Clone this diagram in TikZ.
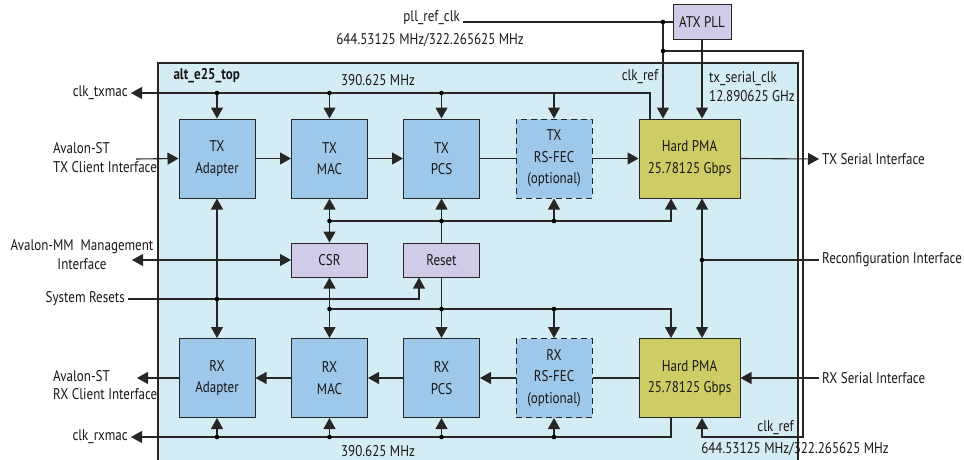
\documentclass[tikz,border=0pt]{standalone}
\usepackage{fontspec}
\setmainfont{PT Sans}[FakeStretch=0.84]
\usetikzlibrary{arrows.meta}
\definecolor{topfill}{HTML}{D4ECF3}
\definecolor{blockblue}{HTML}{9EC8E9}
\definecolor{ctrllav}{HTML}{D0CBE6}
\definecolor{pmaolive}{HTML}{CFCC66}
\definecolor{txtcol}{HTML}{1A1718}

\begin{document}
\begin{tikzpicture}[
  x=1pt, y=-1pt,
  every node/.style={font=\fontsize{15.5}{21.5}\selectfont, text=txtcol},
  block/.style={draw=black!85, line width=1pt, fill=blockblue, minimum width=76pt, minimum height=79pt, inner sep=0pt, align=center},
  optblock/.style={block, dash pattern=on 6pt off 4pt},
  ctrl/.style={block, fill=ctrllav, minimum height=34pt},
  pma/.style={block, fill=pmaolive, minimum width=101pt},
  lbl/.style={inner sep=3pt, font=\fontsize{15.5}{18.5}\selectfont},
  sig/.style={draw=black!85, line width=1.1pt},
  arr/.style={sig, -{Triangle[length=11pt,width=12pt]}},
  darr/.style={sig, {Triangle[length=11pt,width=12pt]}-{Triangle[length=11pt,width=12pt]}},
  dot/.style={fill=black, radius=2.3pt}
]
  \clip (0,0) rectangle (964,460);

  % top level wrapper
  \draw[draw=black!85, line width=1.1pt, fill=topfill] (158,63) rectangle (798,470);
  \node[anchor=west, font=\fontsize{15.5}{18}\selectfont\bfseries] (top) at (170,76) {alt\_e25\_top};

  % TX path
  \node[block] (txad) at (217,158.5) {TX\\Adapter};
  \node[block] (txmac) at (329.5,158.5) {TX\\MAC};
  \node[block] (txpcs) at (441.5,158.5) {TX\\PCS};
  \node[optblock] (txfec) at (554,158.5) {TX\\RS-FEC\\(optional)};
  \node[pma] (txpma) at (689.5,158.5) {Hard PMA\\25.78125 Gbps};

  % control
  \node[ctrl] (csr) at (329.5,260) {CSR};
  \node[ctrl] (reset) at (441.5,260) {Reset};

  % RX path
  \node[block] (rxad) at (217,378) {RX\\Adapter};
  \node[block] (rxmac) at (329.5,378) {RX\\MAC};
  \node[block] (rxpcs) at (441.5,378) {RX\\PCS};
  \node[optblock] (rxfec) at (554,378) {RX\\RS-FEC\\(optional)};
  \node[pma] (rxpma) at (689.5,378) {Hard PMA\\25.78125 Gbps};

  \node[ctrl, minimum width=58pt, minimum height=35pt] (atx) at (702,22) {ATX PLL};

  % outside labels
  \node[lbl, anchor=east] (clktx) at (131,93) {clk\_txmac};
  \node[lbl, anchor=west, align=left] (avsttx) at (50,157.5) {Avalon-ST\\TX Client Interface};
  \node[lbl, align=center] (avmm) at (82,254.5) {Avalon-MM~ Management\\Interface};
  \node[lbl, anchor=east] (sysres) at (128,299) {System Resets};
  \node[lbl, anchor=west, align=left] (avstrx) at (50,385) {Avalon-ST\\RX Client Interface};
  \node[lbl, anchor=east] (clkrx) at (131,437) {clk\_rxmac};
  \node[lbl, anchor=west] (txser) at (819,159) {TX Serial Interface};
  \node[lbl, anchor=west] (reconf) at (819,260) {Reconfiguration Interface};
  \node[lbl, anchor=west] (rxser) at (819,378) {RX Serial Interface};
  \node[lbl, anchor=base east] (pll) at (463,22) {pll\_ref\_clk};
  \node[lbl] (pllfreq) at (430,40) {644.53125 MHz/322.265625 MHz};
  \node[lbl] (txfreq) at (378,80) {390.625 MHz};
  \node[lbl] (rxfreq) at (378,451) {390.625 MHz};
  \node[lbl] (creft) at (640,77) {clk\_ref};
  \node[lbl, anchor=west, align=left] (serclk) at (706,86.5) {tx\_serial\_clk\\12.890625 GHz};
  \node[lbl, anchor=east] (crefb) at (797,428) {clk\_ref};
  \node[lbl] (reffreq) at (795,449) {644.53125 MHz/322.265625 MHz};

  % junction points
  \coordinate (tclk) at (650,93);
  \coordinate (tbus) at (671,221);
  \coordinate (rbus) at (671,309);
  \coordinate (bclk) at (671,437);
  \coordinate (cref) at (663,22);
  \coordinate (cjoin) at (663,51);
  \coordinate (rtop) at (803,51);
  \coordinate (rbot) at (803,437);
  \coordinate (rstin) at (419,299);
  \coordinate (txin) at (136,159);
  \coordinate (rxout) at (137,378);
  \coordinate (mmout) at (132,260);
  \coordinate (rcfg) at (702,260);

  % TX clock
  \draw[arr] (txpma.north -| tclk) |- (clktx.east);
  \foreach \b in {txad,txmac,txpcs} {
    \draw[arr] (\b.north |- tclk) -- (\b.north);
    \fill[dot] (\b.north |- tclk) circle;
  }
  \draw[arr] (txfec.north |- tclk) -- (txfec.north);

  % TX datapath
  \draw[arr] (txin) -- (txad.west);
  \draw[arr] (txad) -- (txmac);
  \draw[arr] (txmac) -- (txpcs);
  \draw[sig] (txpcs) -- (txfec);
  \draw[arr] (txfec) -- (txpma);
  \draw[arr] (txpma.east) -- (txser.west);

  % TX control bus
  \draw[arr] (txmac.south |- tbus) -| (tbus |- txpma.south);
  \draw[darr] (txmac.south) -- (csr.north);
  \draw[arr] (reset.north) -- (txpcs.south);
  \draw[arr] (txfec.south |- tbus) -- (txfec.south);
  \foreach \b in {txmac,txpcs,txfec}
    \fill[dot] (\b.south |- tbus) circle;

  % management and resets
  \draw[darr] (mmout) -- (csr.west);
  \draw[arr] (sysres.east) -| (rstin |- reset.south);
  \draw[darr] (txad.south) -- (rxad.north);
  \fill[dot] (txad.south |- rstin) circle;

  % RX control bus
  \draw[arr] (csr.south |- rbus) -| (rbus |- rxpma.north);
  \draw[darr] (csr.south) -- (rxmac.north);
  \draw[arr] (reset.south) -- (rxpcs.north);
  \draw[arr] (rxfec.north |- rbus) -- (rxfec.north);
  \foreach \b in {csr,reset,rxfec}
    \fill[dot] (\b.south |- rbus) circle;

  % reconfiguration
  \draw[darr] (txpma.south -| rcfg) -- (rxpma.north -| rcfg);
  \draw[sig] (rcfg) -- (reconf.west);
  \fill[dot] (rcfg) circle;

  % RX datapath
  \draw[arr] (rxser.west) -- (rxpma.east);
  \draw[sig] (rxpma) -- (rxfec);
  \draw[arr] (rxfec) -- (rxpcs);
  \draw[arr] (rxpcs) -- (rxmac);
  \draw[arr] (rxmac) -- (rxad);
  \draw[arr] (rxad.west) -- (rxout);

  % RX clock
  \draw[arr] (rxpma.south -| bclk) |- (clkrx.east);
  \foreach \b in {rxad,rxmac,rxpcs,rxfec} {
    \draw[arr] (\b.south |- bclk) -- (\b.south);
    \fill[dot] (\b.south |- bclk) circle;
  }

  % reference and serial clocks
  \draw[sig] (pll.base east) -- (atx.west);
  \draw[arr] (cref) -- (cref |- txpma.north);
  \draw[arr] (cjoin) -- (rtop) -- (rbot) -- (rbot -| rcfg) -- (rxpma.south -| rcfg);
  \fill[dot] (cref) circle;
  \fill[dot] (cjoin) circle;
  \draw[arr] (atx.south) -- (atx.south |- txpma.north);
\end{tikzpicture}
\end{document}
